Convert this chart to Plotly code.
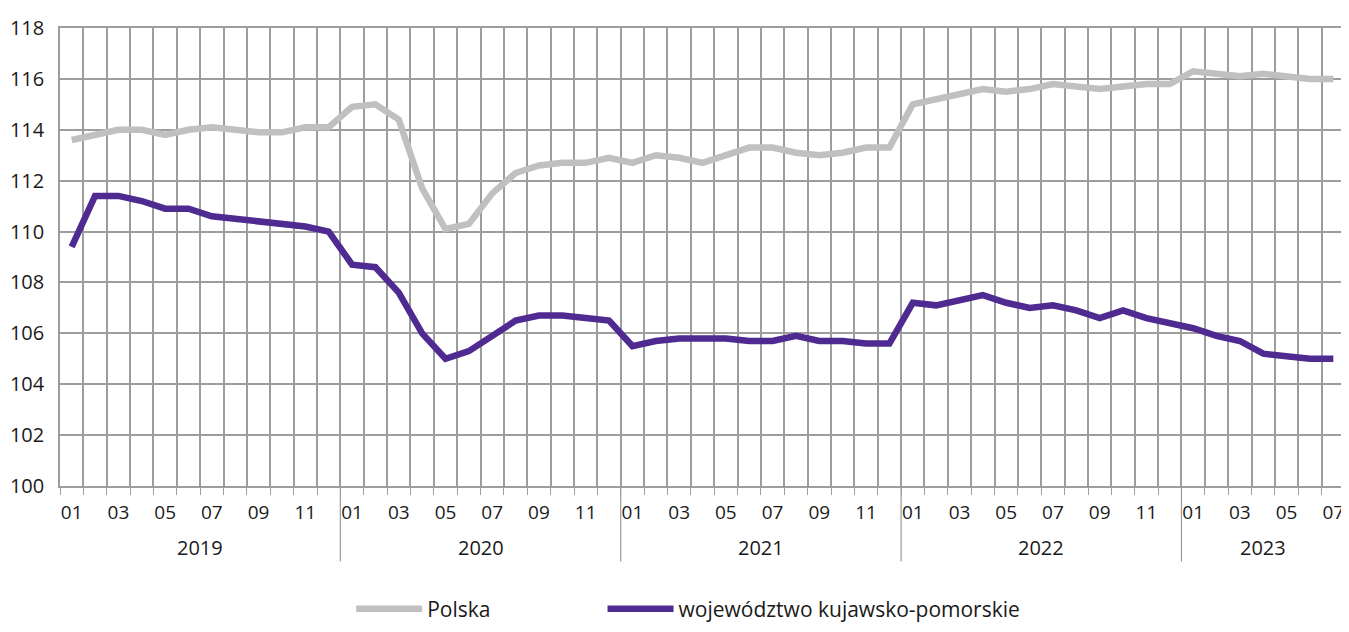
import plotly.graph_objects as go

years = ["2019", "2020", "2021", "2022", "2023"]
months_per_year = [12, 12, 12, 12, 7]
month_labels = ["01", "02", "03", "04", "05", "06", "07", "08", "09", "10", "11", "12"]

polska = [113.6, 113.8, 114.0, 114.0, 113.8, 114.0, 114.1, 114.0, 113.9, 113.9, 114.1, 114.1,
          114.9, 115.0, 114.4, 111.7, 110.1, 110.3, 111.5, 112.3, 112.6, 112.7, 112.7, 112.9,
          112.7, 113.0, 112.9, 112.7, 113.0, 113.3, 113.3, 113.1, 113.0, 113.1, 113.3, 113.3,
          115.0, 115.2, 115.4, 115.6, 115.5, 115.6, 115.8, 115.7, 115.6, 115.7, 115.8, 115.8,
          116.3, 116.2, 116.1, 116.2, 116.1, 116.0, 116.0]

kujawsko = [109.4, 111.4, 111.4, 111.2, 110.9, 110.9, 110.6, 110.5, 110.4, 110.3, 110.2, 110.0,
            108.7, 108.6, 107.6, 106.0, 105.0, 105.3, 105.9, 106.5, 106.7, 106.7, 106.6, 106.5,
            105.5, 105.7, 105.8, 105.8, 105.8, 105.7, 105.7, 105.9, 105.7, 105.7, 105.6, 105.6,
            107.2, 107.1, 107.3, 107.5, 107.2, 107.0, 107.1, 106.9, 106.6, 106.9, 106.6, 106.4,
            106.2, 105.9, 105.7, 105.2, 105.1, 105.0, 105.0]

series_names = ["Polska", "województwo kujawsko-pomorskie"]
series_colors = ["#c0c0c0", "#4e2a91"]
legend_ids = ["legend", "legend2"]

# x positions: month index
month_of = []
for n in months_per_year:
    month_of += month_labels[:n]
xs = list(range(len(month_of)))
tickvals = [i for i, m in enumerate(month_of) if int(m) % 2 == 1]
ticktext = [month_of[i] for i in tickvals]

FONT = "Open Sans, Noto Sans, sans-serif"
GRID = "#9d9d9d"
TXT = "#1a1a1a"

fig = go.Figure()
for name, vals, col, lg in zip(series_names, [polska, kujawsko], series_colors, legend_ids):
    fig.add_trace(go.Scatter(x=xs, y=vals, mode="lines", name=name, legend=lg,
                             line=dict(color=col, width=6.5)))

# year separators and labels
start = 0
for y, n in zip(years, months_per_year):
    if start > 0:
        fig.add_shape(type="line", xref="x", yref="paper", x0=start - 0.5, x1=start - 0.5,
                      y0=0, y1=-0.165, line=dict(color="#9a9a9a", width=1.2))
    fig.add_annotation(x=start + (n - 1) / 2, y=-0.134, xref="x", yref="paper",
                       text=y, showarrow=False, yanchor="middle",
                       font=dict(family=FONT, size=20, color=TXT))
    start += n

leg_common = dict(orientation="h", xanchor="left", yanchor="middle", y=-0.269,
                  font=dict(family=FONT, size=21, color=TXT), itemwidth=66,
                  bgcolor="rgba(0,0,0,0)")

fig.update_layout(
    width=1341, height=624,
    margin=dict(l=50, r=2, t=20, b=143),
    paper_bgcolor="white", plot_bgcolor="white",
    showlegend=True,
    legend=dict(x=0.2266, **leg_common),
    legend2=dict(x=0.4222, **leg_common),
    font=dict(family=FONT, color=TXT),
)

fig.update_xaxes(
    range=[-0.5, len(xs) - 0.5],
    tickmode="array", tickvals=tickvals, ticktext=ticktext,
    ticks="outside", ticklen=8, tickcolor="rgba(0,0,0,0)",
    showgrid=False, zeroline=False,
    tickfont=dict(family=FONT, size=19, color=TXT),
    showline=True, linecolor=GRID, linewidth=1.5, mirror=True,
    minor=dict(tick0=-0.5, dtick=1, showgrid=True, gridcolor=GRID, gridwidth=1.5,
               ticks="outside", ticklen=7, tickcolor=GRID, tickwidth=1.2),
    fixedrange=True,
)
fig.update_yaxes(
    range=[100, 118], dtick=2, tick0=100,
    showgrid=True, gridcolor=GRID, gridwidth=1.5, zeroline=False,
    showline=True, linecolor=GRID, linewidth=1.5, mirror=True,
    ticks="outside", ticklen=10, tickcolor="rgba(0,0,0,0)",
    tickfont=dict(family=FONT, size=20, color=TXT),
    fixedrange=True,
)

fig.write_html("out.html")
